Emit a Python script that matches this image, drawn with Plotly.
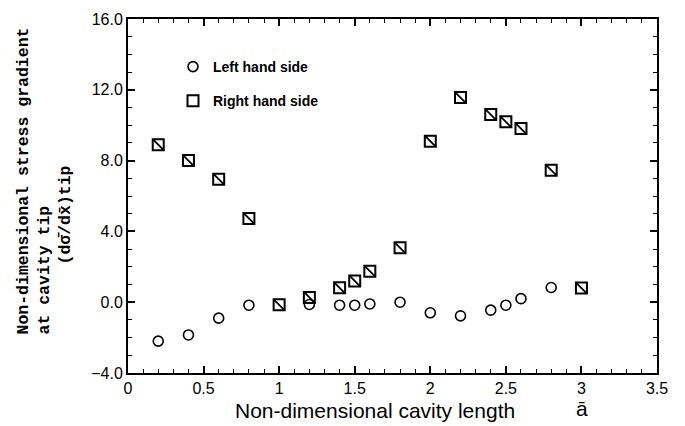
import plotly.graph_objects as go

# Left hand side (circles)
x_left = [0.2, 0.4, 0.6, 0.8, 1.2, 1.4, 1.5, 1.6, 1.8, 2.0, 2.2, 2.4, 2.5, 2.6, 2.8]
y_left = [-2.2, -1.85, -0.9, -0.17, -0.13, -0.17, -0.17, -0.1, 0.0, -0.6, -0.77, -0.45, -0.17, 0.2, 0.83]

# Right hand side (squares)
x_right = [0.2, 0.4, 0.6, 0.8, 1.0, 1.2, 1.4, 1.5, 1.6, 1.8, 2.0, 2.2, 2.4, 2.5, 2.6, 2.8, 3.0]
y_right = [8.9, 8.0, 6.95, 4.73, -0.15, 0.27, 0.81, 1.2, 1.75, 3.07, 9.1, 11.56, 10.6, 10.19, 9.81, 7.46, 0.8]

x_ticks = [0, 0.5, 1, 1.5, 2, 2.5, 3, 3.5]
x_ticklabels = ["0", "0.5", "1", "1.5", "2", "2.5", "3", "3.5"]
y_ticks = [-4, 0, 4, 8, 12, 16]

L, R, T, B = 128, 28, 19, 53
W, H = 685, 426
pw, ph = W - L - R, H - T - B

def px_x(p):
    return (p - L) / pw

def px_y(p):
    return (H - B - p) / ph

fig = go.Figure()
fig.add_trace(go.Scatter(
    x=x_left, y=y_left, mode="markers", name="Left hand side",
    legendgroup="a",
    marker=dict(symbol="circle-open", size=10, color="black", line=dict(width=1.6, color="black")),
))
fig.add_trace(go.Scatter(
    x=x_right, y=y_right, mode="markers", name="Right hand side",
    legendgroup="b",
    marker=dict(symbol="square-open", size=11, color="black", line=dict(width=2, color="black")),
))
fig.add_trace(go.Scatter(
    x=x_right, y=y_right, mode="markers", name="Right hand side",
    legendgroup="b", showlegend=False,
    marker=dict(symbol="line-nw", size=10, color="black", line=dict(width=1.8, color="black")),
))

axis_common = dict(
    showline=True, linecolor="black", linewidth=2, mirror="allticks",
    ticks="inside", tickcolor="black", tickwidth=1.5, ticklen=7,
    showgrid=False, zeroline=False,
    tickfont=dict(family="Liberation Sans, Arial", size=16, color="black"),
)

fig.update_xaxes(
    range=[0, 3.5], tickmode="array", tickvals=x_ticks, ticktext=x_ticklabels,
    minor=dict(ticks="inside", dtick=0.1, ticklen=4, tickcolor="black", tickwidth=1.2),
    **axis_common,
)
fig.update_yaxes(
    range=[-4, 16], tickmode="array", tickvals=y_ticks, tickformat=".1f",
    minor=dict(ticks="inside", dtick=1, ticklen=4, tickcolor="black", tickwidth=1.2),
    **axis_common,
)

mono = dict(family="Liberation Mono, Courier New, monospace", size=16.5, color="black", weight="bold")
ann = [
    dict(text="<b>Non-dimensional stress gradient</b>", x=px_x(23), y=px_y(337)),
    dict(text="<b>at cavity tip</b>", x=px_x(44), y=px_y(337)),
    dict(text="<b>(d\u03c3\u0304/dx\u0304)tip</b>", x=px_x(65), y=px_y(267)),
]
for a in ann:
    fig.add_annotation(xref="paper", yref="paper", textangle=-90, showarrow=False,
                       xanchor="center", yanchor="bottom", font=mono, **a)

fig.add_annotation(xref="paper", yref="paper", x=px_x(375), y=px_y(410),
                   text="Non-dimensional cavity length", showarrow=False,
                   xanchor="center", yanchor="middle",
                   font=dict(family="Liberation Sans, Arial", size=21, color="black"))
fig.add_annotation(xref="paper", yref="paper", x=px_x(582), y=px_y(408),
                   text="\u0101", showarrow=False, xanchor="center", yanchor="middle",
                   font=dict(family="Liberation Sans, Arial", size=21, color="black"))

fig.update_layout(
    width=W, height=H,
    margin=dict(l=L, r=R, t=T, b=B),
    paper_bgcolor="white", plot_bgcolor="white",
    showlegend=True,
    legend=dict(
        x=px_x(173), y=px_y(51), xanchor="left", yanchor="top",
        bgcolor="rgba(0,0,0,0)", borderwidth=0,
        traceorder="grouped", tracegroupgap=13,
        font=dict(family="Liberation Sans, Arial", size=14, color="black", weight="bold"),
    ),
)

fig.write_html("out.html", config={"displayModeBar": False},
               post_script="document.body.style.margin='0px';document.body.style.overflow='hidden';")
